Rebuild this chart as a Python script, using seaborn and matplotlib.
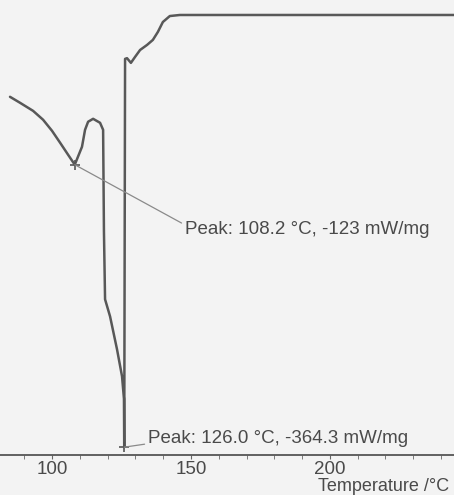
import numpy as np
import pandas as pd
import matplotlib
matplotlib.use("Agg")
import matplotlib.pyplot as plt
import seaborn as sns

# DSC curve
temperature = [84.9, 88.5, 93.2, 96.8, 100.0, 103.0, 105.8, 108.2, 110.8, 111.9, 113.0,
               114.8, 117.3, 118.4, 118.7, 119.1, 120.9, 123.4, 125.2, 125.9, 126.0,
               126.3, 127.0, 128.4, 129.9, 131.7, 134.2, 136.3, 138.1, 139.9, 142.4,
               146.0, 200.0, 252.0]
heat_flow = [-65.0, -70.1, -77.0, -84.6, -94.0, -104.5, -114.5, -123.0, -107.7, -93.2, -86.3,
             -83.8, -87.2, -93.2, -180.0, -238.0, -252.6, -280.7, -303.7, -323.0, -364.3,
             -32.6, -32.0, -36.0, -30.9, -25.0, -20.7, -16.4, -9.6, -1.1, 4.0,
             4.9, 4.9, 4.9]

peak_temps = [108.2, 126.0]
peak_vals = [-123.0, -364.3]
peak_labels = ["Peak: 108.2 °C, -123 mW/mg", "Peak: 126.0 °C, -364.3 mW/mg"]

sns.set_style("white")
plt.rcParams['font.family'] = ['Liberation Sans', 'DejaVu Sans']

df = pd.DataFrame({"T": temperature, "HF": heat_flow})

fig = plt.figure(figsize=(4.54, 4.95), dpi=100, facecolor="#f3f3f3")
ax = fig.add_axes([0, 1 - 455 / 495, 1.045, 455 / 495])
ax.set_facecolor("#f3f3f3")

sns.lineplot(data=df, x="T", y="HF", ax=ax, color="#585858", linewidth=1.8,
             sort=False, estimator=None)

ax.set_xlim(81.3, 252.0)
ax.set_ylim(-371, 17.7)

# peak markers with leader lines
ax.plot(peak_temps, peak_vals, linestyle="none", marker="+", color="#555555",
        markersize=7, markeredgewidth=1.2)
ax.annotate(peak_labels[0], xy=(peak_temps[0], peak_vals[0]), xytext=(147.8, -178),
            fontsize=13.5, color="#4a4a4a", va="center", ha="left",
            arrowprops=dict(arrowstyle="-", color="#8a8a8a", lw=0.9,
                            shrinkA=0, shrinkB=0, relpos=(0, 0.75)))
ax.annotate(peak_labels[1], xy=(peak_temps[1], peak_vals[1]), xytext=(134.5, -357),
            fontsize=13.5, color="#4a4a4a", va="center", ha="left",
            arrowprops=dict(arrowstyle="-", color="#8a8a8a", lw=0.9,
                            shrinkA=0, shrinkB=0, relpos=(0, 0.2)))

sns.despine(ax=ax, left=True, top=True, right=True)
ax.spines["bottom"].set_color("#555555")
ax.spines["bottom"].set_linewidth(1.3)
ax.set_yticks([])
ax.set_xticks([100, 150, 200, 250])
ax.set_xticks(np.arange(90, 260, 10), minor=True)
ax.tick_params(axis="x", which="both", direction="out", length=3, color="#666666",
               labelsize=13.5, labelcolor="#4a4a4a", pad=1, bottom=True)
ax.set_xlabel("")
ax.set_ylabel("")
fig.text(0.99, 0.018, "Temperature /°C", ha="right", va="center", fontsize=13,
         color="#4a4a4a")

fig.savefig("out.png", dpi=100, facecolor=fig.get_facecolor())
